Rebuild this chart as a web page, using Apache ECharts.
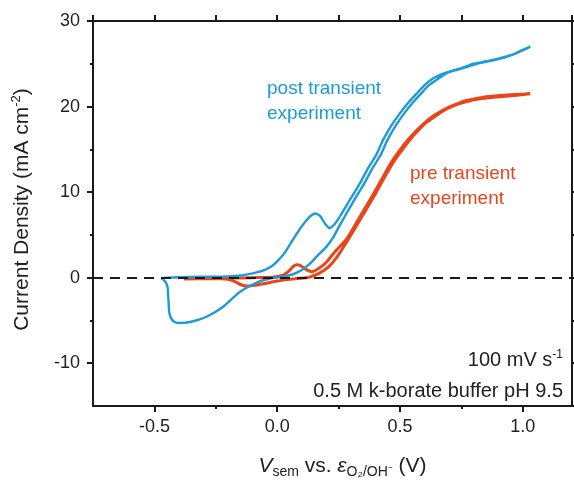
<!DOCTYPE html>
<html>
<head>
<meta charset="utf-8">
<script src="https://cdn.jsdelivr.net/npm/echarts@6/dist/echarts.min.js"></script>
<style>
  html, body { margin: 0; padding: 0; background: #fff; }
  #chart { width: 574px; height: 482px; }
</style>
</head>
<body>
<div id="chart"></div>
<script>
// post transient CV (forward scan, then return scan)
const postV = [-0.473, -0.45, -0.40, -0.30, -0.20, -0.15, -0.10, -0.05, -0.02, 0.00, 0.03, 0.063, 0.10, 0.132, 0.155, 0.175, 0.195, 0.213, 0.235, 0.254, 0.30, 0.336, 0.37, 0.404, 0.431, 0.465, 0.499, 0.535, 0.567, 0.60, 0.635, 0.67, 0.703, 0.75, 0.80, 0.85, 0.90, 0.95, 0.99, 1.03,
  1.01, 0.97, 0.92, 0.87, 0.82, 0.77, 0.72, 0.69, 0.652, 0.618, 0.585, 0.553, 0.517, 0.483, 0.449, 0.422, 0.388, 0.354, 0.318, 0.272, 0.252, 0.228, 0.20, 0.165, 0.132, 0.10, 0.064, 0.02, -0.03, -0.086, -0.154, -0.22, -0.29, -0.35, -0.40, -0.42, -0.433, -0.44, -0.443, -0.447, -0.46, -0.473];
const postJ = [-0.05, 0.0, 0.05, 0.1, 0.15, 0.25, 0.5, 0.9, 1.4, 1.9, 2.9, 4.4, 6.0, 7.1, 7.5, 7.2, 6.3, 5.8, 6.3, 7.1, 9.3, 11.0, 12.8, 14.4, 16.1, 17.8, 19.2, 20.5, 21.5, 22.5, 23.3, 23.8, 24.1, 24.5, 25.0, 25.3, 25.6, 26.0, 26.5, 27.0,
  26.7, 26.2, 25.7, 25.35, 25.05, 24.6, 24.2, 23.9, 23.2, 22.5, 21.5, 20.5, 19.2, 17.8, 16.1, 14.4, 12.8, 11.0, 9.3, 7.0, 6.0, 4.7, 3.6, 2.6, 1.6, 0.9, 0.4, 0.1, -0.1, -0.6, -1.7, -3.4, -4.6, -5.15, -5.3, -5.15, -4.7, -4.0, -2.5, -1.0, -0.3, -0.05];

// pre transient CV
const preV = [-0.38, -0.30, -0.20, -0.10, -0.02, 0.02, 0.045, 0.065, 0.08, 0.095, 0.115, 0.14, 0.17, 0.20, 0.24, 0.282, 0.336, 0.39, 0.431, 0.465, 0.499, 0.535, 0.567, 0.60, 0.635, 0.67, 0.703, 0.74, 0.771, 0.839, 0.907, 0.97, 1.03,
  0.95, 0.88, 0.80, 0.75, 0.71, 0.675, 0.645, 0.61, 0.577, 0.545, 0.51, 0.475, 0.44, 0.40, 0.346, 0.292, 0.25, 0.21, 0.17, 0.135, 0.118, 0.08, 0.05, 0.0, -0.045, -0.09, -0.127, -0.15, -0.17, -0.20, -0.26, -0.38];
const preJ = [-0.15, -0.1, -0.05, 0.0, 0.05, 0.25, 0.7, 1.3, 1.5, 1.4, 1.0, 0.7, 1.1, 1.8, 3.2, 4.5, 7.1, 9.7, 11.8, 13.5, 14.9, 16.2, 17.2, 18.1, 18.9, 19.5, 20.0, 20.4, 20.7, 21.1, 21.3, 21.4, 21.5,
  21.25, 21.1, 20.8, 20.4, 20.0, 19.5, 18.9, 18.2, 17.3, 16.3, 15.0, 13.6, 11.9, 9.8, 7.2, 4.6, 2.7, 1.3, 0.5, 0.1, 0.0, -0.1, -0.2, -0.4, -0.65, -0.9, -0.97, -0.8, -0.5, -0.2, -0.1, -0.15];

const xMajor = [-0.5, 0, 0.5, 1.0];
const xMinor = [-0.25, 0.25, 0.75];
const yMajor = [-10, 0, 10, 20, 30];
const yMinor = [-5, 5, 15, 25];

const FONT = 'Liberation Sans, Arial, sans-serif';
const INK = '#1a1a1a';
const BLUE = '#1e9bd7';
const RED = '#e8461a';

const zip = (xs, ys) => xs.map((x, i) => [x, ys[i]]);

const chart = echarts.init(document.getElementById('chart'));

const frameLine = { show: true, onZero: false, lineStyle: { color: INK, width: 2 } };
const xBase = { type: 'value', min: -0.75, max: 1.2, splitLine: { show: false } };
const yBase = { type: 'value', min: -15, max: 30, splitLine: { show: false } };

let option = {
  animation: false,
  grid: { left: 93, right: 2, top: 21, bottom: 76, outerBoundsMode: 'none' },
  xAxis: [
    Object.assign({}, xBase, {
      position: 'bottom',
      axisLine: frameLine,
      axisTick: { show: true, inside: false, length: 6, customValues: xMajor, lineStyle: { color: INK, width: 2 } },
      axisLabel: {
        show: true, customValues: xMajor, margin: 12, color: '#222', fontSize: 18, fontFamily: FONT,
        formatter: v => v.toFixed(1)
      },
      name: '{i|V}{sub|sem}{n| vs. }{i|ε}{sub|O₂/OH⁻}{n| (V)}',
      nameLocation: 'middle',
      nameGap: 47,
      nameTextStyle: {
        color: '#222', fontFamily: FONT, fontSize: 21, padding: [0, 0, 0, 20],
        rich: {
          n: { fontSize: 21, fontFamily: FONT, color: '#222' },
          i: { fontSize: 21, fontFamily: FONT, fontStyle: 'italic', color: '#222' },
          sub: { fontSize: 14, fontFamily: FONT, color: '#222', padding: [12, 0, 0, 0] }
        }
      }
    }),
    Object.assign({}, xBase, {
      position: 'bottom',
      axisLine: { show: false, onZero: false },
      axisTick: { show: true, length: 3, customValues: xMinor, lineStyle: { color: INK, width: 2 } },
      axisLabel: { show: false }
    }),
    Object.assign({}, xBase, {
      position: 'top',
      interval: 0.25,
      axisLine: frameLine,
      axisTick: { show: true, length: 6, lineStyle: { color: INK, width: 2 } },
      axisLabel: { show: false }
    })
  ],
  yAxis: [
    Object.assign({}, yBase, {
      position: 'left',
      axisLine: frameLine,
      axisTick: { show: true, length: 6, customValues: yMajor, lineStyle: { color: INK, width: 2 } },
      axisLabel: { show: true, customValues: yMajor, margin: 13, color: '#222', fontSize: 18, fontFamily: FONT },
      name: 'Current Density (mA cm{sup|-2})',
      nameLocation: 'middle',
      nameRotate: 90,
      nameGap: 58,
      nameTextStyle: {
        color: '#222', fontFamily: FONT, fontSize: 21, padding: [0, 0, 0, 8],
        rich: {
          sup: { fontSize: 13, fontFamily: FONT, color: '#222', padding: [0, 0, 12, 0] }
        }
      }
    }),
    Object.assign({}, yBase, {
      position: 'left',
      axisLine: { show: false, onZero: false },
      axisTick: { show: true, length: 3, customValues: yMinor, lineStyle: { color: INK, width: 2 } },
      axisLabel: { show: false }
    }),
    Object.assign({}, yBase, {
      position: 'right',
      interval: 5,
      axisLine: frameLine,
      axisTick: { show: true, length: 6, lineStyle: { color: INK, width: 2 } },
      axisLabel: { show: false }
    })
  ],
  graphic: [
    { type: 'text', left: 267, top: 76, style: { text: 'post transient\nexperiment', fill: BLUE, font: '19px ' + FONT, lineHeight: 25 } },
    { type: 'text', left: 410, top: 161, style: { text: 'pre transient\nexperiment', fill: RED, font: '19px ' + FONT, lineHeight: 25 } },
    {
      type: 'text', right: 11, top: 349,
      style: {
        text: '{n|100 mV s}{sup|-1}', fill: '#222', font: '20px ' + FONT,
        rich: { n: { fontSize: 20, fontFamily: FONT, fill: '#222' }, sup: { fontSize: 12, fontFamily: FONT, fill: '#222', padding: [0, 0, 10, 0] } }
      }
    },
    { type: 'text', right: 11, top: 381, style: { text: '0.5 M k-borate buffer pH 9.5', fill: '#222', font: '20px ' + FONT } }
  ],
  series: [
    {
      type: 'line', data: [], xAxisIndex: 0, yAxisIndex: 0, silent: true,
      markLine: {
        silent: true, symbol: ['none', 'none'], label: { show: false },
        lineStyle: { color: INK, type: [10, 7], width: 2 },
        data: [{ yAxis: 0 }]
      }
    },
    {
      name: 'pre transient', type: 'line', xAxisIndex: 0, yAxisIndex: 0,
      data: zip(preV, preJ), showSymbol: false, smooth: 0.2,
      lineStyle: { color: RED, width: 3 }, itemStyle: { color: RED }
    },
    {
      name: 'post transient', type: 'line', xAxisIndex: 0, yAxisIndex: 0,
      data: zip(postV, postJ), showSymbol: false, smooth: 0.2,
      lineStyle: { color: BLUE, width: 2.4 }, itemStyle: { color: BLUE }
    }
  ]
};

chart.setOption(option);
</script>
</body>
</html>
